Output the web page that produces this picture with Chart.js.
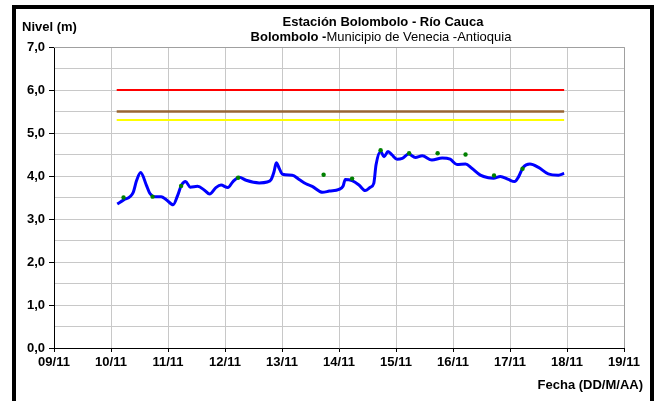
<!DOCTYPE html>
<html>
<head>
<meta charset="utf-8">
<script src="https://cdn.jsdelivr.net/npm/chart.js@4/dist/chart.umd.min.js"></script>
<style>
  html, body { margin: 0; padding: 0; background: #fff; }
  #wrap { width: 655px; height: 401px; }
</style>
</head>
<body>
<div id="wrap"><canvas id="c" width="655" height="401"></canvas></div>
<script>
// ---- Data (days since 09/11 00:00) ----
const dayLabels = ['09/11','10/11','11/11','12/11','13/11','14/11','15/11','16/11','17/11','18/11','19/11'];

const levelDays = [1.11,1.22,1.39,1.45,1.52,1.62,1.68,1.77,1.88,1.97,2.09,2.17,2.23,2.31,2.39,2.52,2.64,2.73,2.84,2.93,3.05,3.14,3.25,3.37,3.60,3.74,3.81,3.86,3.90,3.95,4.01,4.18,4.30,4.42,4.53,4.71,4.83,5.00,5.07,5.11,5.23,5.35,5.46,5.55,5.61,5.65,5.73,5.79,5.86,5.93,6.02,6.11,6.22,6.34,6.46,6.63,6.81,6.95,7.07,7.22,7.33,7.48,7.62,7.71,7.83,7.97,8.08,8.15,8.23,8.35,8.50,8.67,8.85,8.95];
const levelValues = [3.35,3.44,3.62,3.90,4.08,3.79,3.60,3.52,3.52,3.45,3.33,3.55,3.77,3.87,3.74,3.76,3.67,3.58,3.73,3.79,3.73,3.87,3.97,3.90,3.84,3.86,3.92,4.10,4.31,4.18,4.04,4.02,3.92,3.82,3.76,3.62,3.65,3.69,3.76,3.92,3.89,3.79,3.66,3.74,3.83,4.26,4.57,4.45,4.57,4.49,4.39,4.41,4.51,4.43,4.47,4.37,4.42,4.39,4.27,4.28,4.18,4.02,3.96,3.95,3.99,3.92,3.87,3.98,4.20,4.28,4.20,4.05,4.02,4.06];

const sampleDays = [1.22,1.73,2.23,3.23,4.73,5.23,5.73,6.23,6.73,7.22,7.72,8.22];
const sampleValues = [3.50,3.52,3.77,3.96,4.03,3.94,4.60,4.53,4.53,4.50,4.01,4.17];

const thresholdLevels = [6.0, 5.5, 5.3];
const thresholdColors = ['#ff0000', '#996633', '#ffff00'];
const thresholdStart = 1.10;
const thresholdEnd = 8.95;

const yTicksMax = 7;
// ---------------------------------------

const FONT = '"Liberation Sans", Arial, sans-serif';
const FS = 13;

const datasets = [];
datasets.push({
  label: 'Lecturas',
  data: sampleDays.map((d, i) => ({ x: d, y: sampleValues[i] })),
  showLine: false,
  pointRadius: 2.2,
  pointBackgroundColor: '#008000',
  pointBorderColor: '#008000',
  pointBorderWidth: 0
});
datasets.push({
  label: 'Nivel',
  data: levelDays.map((d, i) => ({ x: d, y: levelValues[i] })),
  borderColor: '#0000ff',
  borderWidth: 3,
  pointRadius: 0,
  tension: 0.35,
  cubicInterpolationMode: 'monotone',
  fill: false
});
thresholdLevels.forEach((lv, i) => {
  datasets.push({
    label: 'Umbral ' + i,
    data: [{ x: thresholdStart, y: lv }, { x: thresholdEnd, y: lv }],
    borderColor: thresholdColors[i],
    borderWidth: i === 1 ? 2.5 : 2,
    pointRadius: 0,
    fill: false
  });
});

const framePlugin = {
  id: 'frame',
  beforeDraw(chart) {
    const ctx = chart.ctx;
    ctx.save();
    ctx.fillStyle = '#fff';
    ctx.fillRect(0, 0, chart.width, chart.height);
    ctx.fillStyle = '#000';
    ctx.fillRect(12, 5, 642, 4);   // top
    ctx.fillRect(12, 5, 4, 401);   // left
    ctx.fillRect(650, 5, 4, 401);  // right
    ctx.restore();
  },
  afterDatasetsDraw(chart) {
    const ctx = chart.ctx;
    const a = chart.chartArea;
    ctx.save();
    ctx.strokeStyle = '#a0a0a0';
    ctx.lineWidth = 1;
    ctx.beginPath();
    ctx.moveTo(a.left, a.top + 0.5);
    ctx.lineTo(a.right + 0.5, a.top + 0.5);
    ctx.lineTo(a.right + 0.5, a.bottom);
    ctx.stroke();
    ctx.restore();
  },
  afterDraw(chart) {
    const ctx = chart.ctx;
    ctx.save();
    ctx.fillStyle = '#000';
    ctx.textBaseline = 'middle';
    ctx.font = 'bold ' + FS + 'px ' + FONT;
    ctx.textAlign = 'left';
    ctx.fillText('Nivel (m)', 22, 27);
    ctx.textAlign = 'center';
    ctx.fillText('Estación Bolombolo - Río Cauca', 383, 22);
    // subtitle with mixed weights
    const s1 = 'Bolombolo -';
    const s2 = 'Municipio de Venecia -Antioquia';
    ctx.font = 'bold ' + FS + 'px ' + FONT;
    const w1 = ctx.measureText(s1).width;
    ctx.font = FS + 'px ' + FONT;
    const w2 = ctx.measureText(s2).width;
    const x0 = 381 - (w1 + w2) / 2;
    ctx.textAlign = 'left';
    ctx.font = 'bold ' + FS + 'px ' + FONT;
    ctx.fillText(s1, x0, 37);
    ctx.font = FS + 'px ' + FONT;
    ctx.fillText(s2, x0 + w1, 37);
    ctx.font = 'bold ' + FS + 'px ' + FONT;
    ctx.textAlign = 'right';
    ctx.fillText('Fecha (DD/M/AA)', 643, 385);
    ctx.restore();
  }
};

new Chart(document.getElementById('c'), {
  type: 'line',
  data: { datasets },
  options: {
    responsive: false,
    animation: false,
    devicePixelRatio: 1,
    layout: { padding: { left: 14, right: 31, top: 47, bottom: 0 } },
    plugins: { legend: { display: false }, tooltip: { enabled: false }, title: { display: false } },
    scales: {
      x: {
        type: 'linear',
        min: 0,
        max: dayLabels.length - 1,
        afterFit(s) { s.height = 53; },
        ticks: {
          stepSize: 1,
          autoSkip: false,
          maxRotation: 0,
          padding: 3,
          color: '#000',
          font: { family: FONT, size: FS, weight: 'bold' },
          callback: (v) => dayLabels[v] !== undefined ? dayLabels[v] : ''
        },
        grid: { color: '#c8c8c8', lineWidth: 1, tickColor: '#000', tickLength: 4 },
        border: { color: '#000', width: 1 }
      },
      y: {
        type: 'linear',
        min: 0,
        max: yTicksMax,
        afterFit(s) { s.width = 40; },
        ticks: {
          stepSize: 0.5,
          padding: 4,
          color: '#000',
          font: { family: FONT, size: FS, weight: 'bold' },
          callback: (v) => Number.isInteger(v) ? v.toFixed(1).replace('.', ',') : ''
        },
        grid: {
          color: '#c8c8c8',
          lineWidth: 1,
          tickLength: 5,
          tickColor: (c) => (c.tick && Number.isInteger(c.tick.value)) ? '#000' : 'rgba(0,0,0,0)'
        },
        border: { color: '#000', width: 1 }
      }
    }
  },
  plugins: [framePlugin]
});
</script>
</body>
</html>
